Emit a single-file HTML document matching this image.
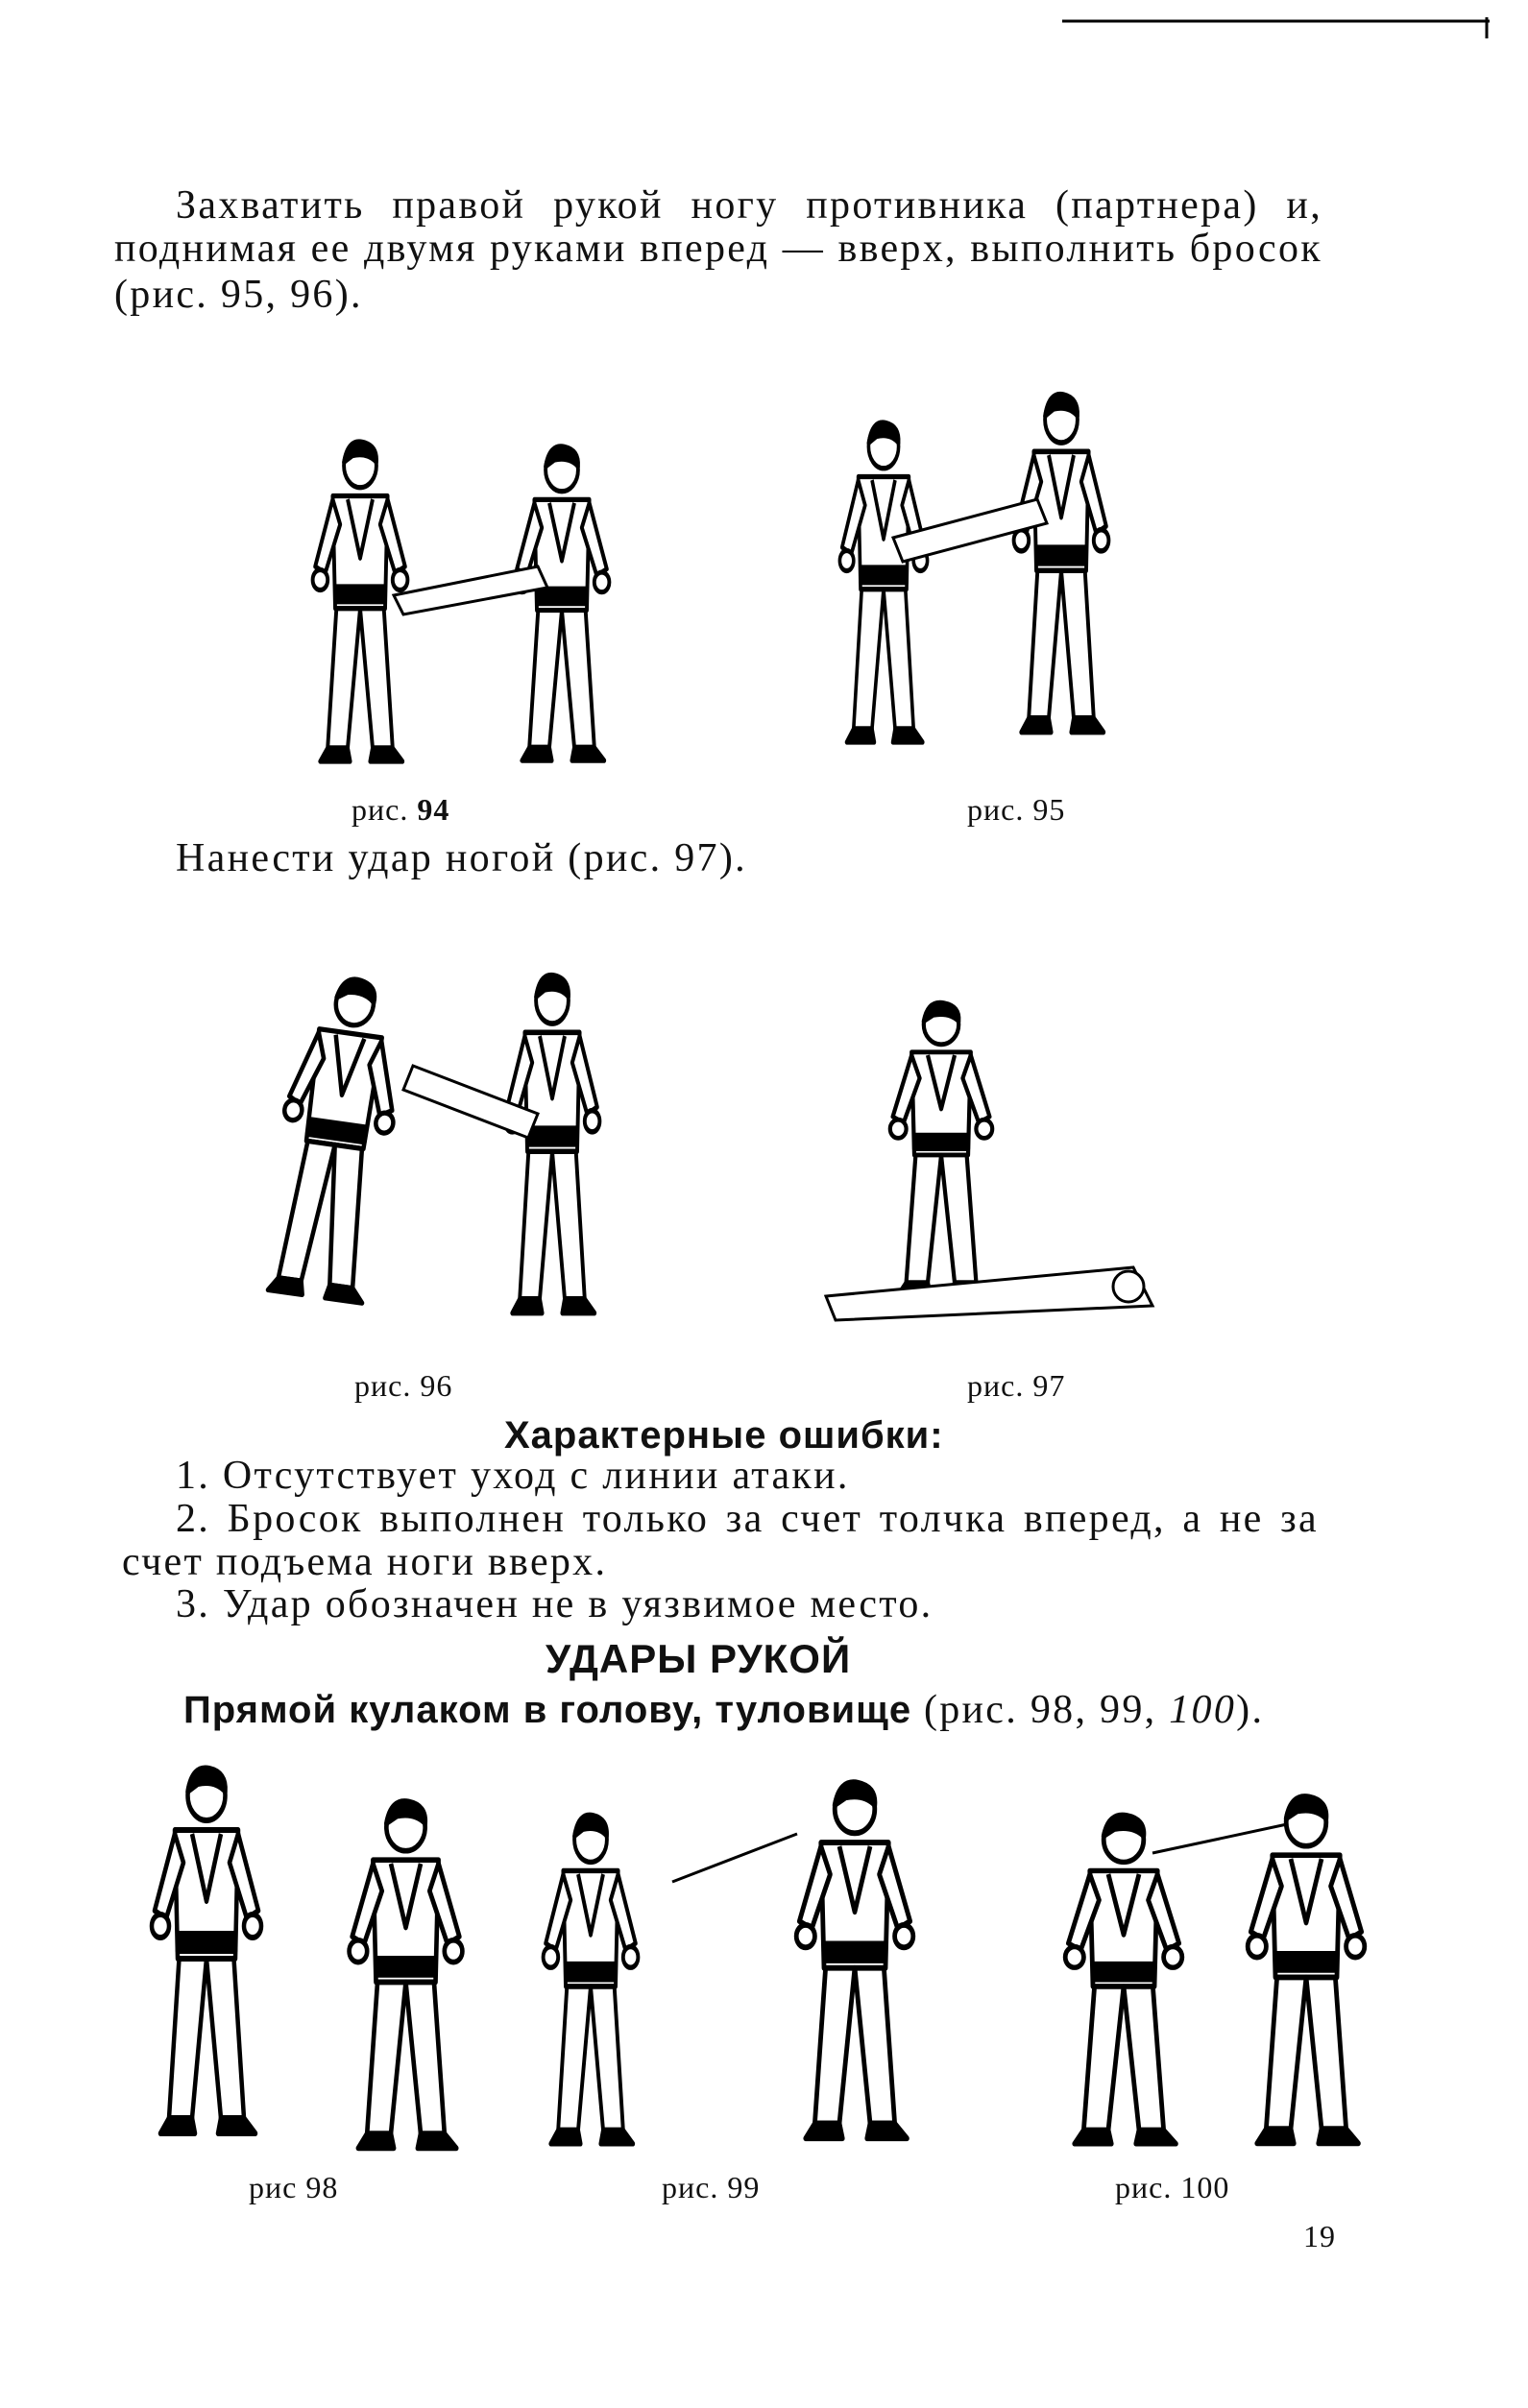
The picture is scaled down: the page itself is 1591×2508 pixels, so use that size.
<!DOCTYPE html>
<html><head><meta charset="utf-8">
<style>
html,body{margin:0;padding:0;background:#fff;}
body{width:1591px;height:2508px;position:relative;overflow:hidden;font-family:"Liberation Serif","DejaVu Serif",serif;color:#111;}
.t{position:absolute;white-space:nowrap;font-size:42px;line-height:45px;letter-spacing:2.3px;}
.j{position:absolute;font-size:42px;line-height:45px;letter-spacing:2.3px;text-align:justify;text-align-last:justify;white-space:nowrap;}
.cap{position:absolute;font-size:32px;white-space:nowrap;letter-spacing:1px;}
.b{font-family:"Liberation Sans","DejaVu Sans",sans-serif;font-weight:bold;letter-spacing:1px;}
svg{position:absolute;left:0;top:0;}
</style></head><body>
<svg width="1591" height="2508" viewBox="0 0 1591 2508">
<defs>
<g id="p" stroke="#000" stroke-width="3" fill="#fff" stroke-linejoin="round">
 <polygon points="28,38 72,38 70,105 30,105"/>
 <polygon points="31,105 50,105 40,188 24,188"/>
 <polygon points="50,105 69,105 76,188 60,188"/>
 <path d="M24,188 l-6,8 h24 l-2,-8z" fill="#000"/>
 <path d="M60,188 l-2,8 h26 l-8,-8z" fill="#000"/>
 <polygon points="28,40 14,80 22,84 34,55"/>
 <polygon points="72,40 86,80 78,84 66,55"/>
 <circle cx="18" cy="88" r="6"/><circle cx="82" cy="88" r="6"/>
 <rect x="30" y="92" width="40" height="9" fill="#000"/>
 <path d="M40,40 L50,75 L60,40" fill="none"/>
 <circle cx="50" cy="20" r="13"/>
 <path d="M37,18 Q40,4 52,6 Q64,8 63,18 Q56,12 44,14z" fill="#000"/>
</g>
</defs>
<line x1="1106" y1="22" x2="1551" y2="22" stroke="#000" stroke-width="3"/>
<line x1="1548" y1="18" x2="1548" y2="40" stroke="#000" stroke-width="3"/>
<use href="#p" transform="translate(310,450) scale(1.3,1.75)"/>
<use href="#p" transform="translate(520,455) scale(1.3,1.72)"/>
<polygon points="410,620 560,590 570,612 420,640" fill="#fff" stroke="#000" stroke-width="3"/>
<use href="#p" transform="translate(860,430) scale(1.2,1.75)"/>
<use href="#p" transform="translate(1040,400) scale(1.3,1.85)"/>
<polygon points="930,560 1080,520 1090,545 940,585" fill="#fff" stroke="#000" stroke-width="3"/>
<use href="#p" transform="translate(300,1000) rotate(8) scale(1.5,1.75)"/>
<use href="#p" transform="translate(510,1005) scale(1.3,1.85)"/>
<polygon points="430,1110 560,1160 550,1185 420,1135" fill="#fff" stroke="#000" stroke-width="3"/>
<use href="#p" transform="translate(910,1035) scale(1.4,1.6)"/>
<polygon points="860,1350 1180,1320 1200,1360 870,1375" fill="#fff" stroke="#000" stroke-width="3"/>
<circle cx="1175" cy="1340" r="16" fill="#fff" stroke="#000" stroke-width="3"/>
<use href="#p" transform="translate(140,1830) scale(1.5,2)"/>
<use href="#p" transform="translate(345,1865) scale(1.55,1.9)"/>
<use href="#p" transform="translate(550,1880) scale(1.3,1.8)"/>
<use href="#p" transform="translate(810,1845) scale(1.6,1.95)"/>
<line x1="700" y1="1960" x2="830" y2="1910" stroke="#000" stroke-width="3"/>
<use href="#p" transform="translate(1090,1880) scale(1.6,1.8)"/>
<use href="#p" transform="translate(1280,1860) scale(1.6,1.9)"/>
<line x1="1200" y1="1930" x2="1340" y2="1900" stroke="#000" stroke-width="3"/>
</svg>

<div class="j" style="left:183px;width:1194px;top:192px">Захватить правой рукой ногу противника (партнера) и,</div>
<div class="j" style="left:119px;width:1258px;top:237px">поднимая ее двумя руками вперед — вверх, выполнить бросок</div>
<div class="t" style="left:119px;top:285px">(рис. 95, 96).</div>

<div class="cap" style="left:366px;top:825px">рис. <b>94</b></div>
<div class="cap" style="left:1007px;top:825px">рис. 95</div>
<div class="t" style="left:183px;top:872px">Нанести удар ногой (рис. 97).</div>

<div class="cap" style="left:369px;top:1425px">рис. 96</div>
<div class="cap" style="left:1007px;top:1425px">рис. 97</div>

<div class="t b" style="left:525px;top:1473px;font-size:40px">Характерные ошибки:</div>
<div class="t" style="left:183px;top:1515px">1. Отсутствует уход с линии атаки.</div>
<div class="j" style="left:183px;width:1190px;top:1560px">2. Бросок выполнен только за счет толчка вперед, а не за</div>
<div class="t" style="left:127px;top:1605px">счет подъема ноги вверх.</div>
<div class="t" style="left:183px;top:1649px">3. Удар обозначен не в уязвимое место.</div>
<div class="t b" style="left:568px;top:1705px;font-size:42px">УДАРЫ РУКОЙ</div>
<div class="t" style="left:191px;top:1759px"><span class="b" style="font-size:40px">Прямой кулаком в голову, туловище</span> (рис. 98, 99, <i>100</i>).</div>

<div class="cap" style="left:259px;top:2260px">рис  98</div>
<div class="cap" style="left:689px;top:2260px">рис. 99</div>
<div class="cap" style="left:1161px;top:2260px">рис. 100</div>
<div class="cap" style="left:1357px;top:2311px">19</div>
</body></html>
